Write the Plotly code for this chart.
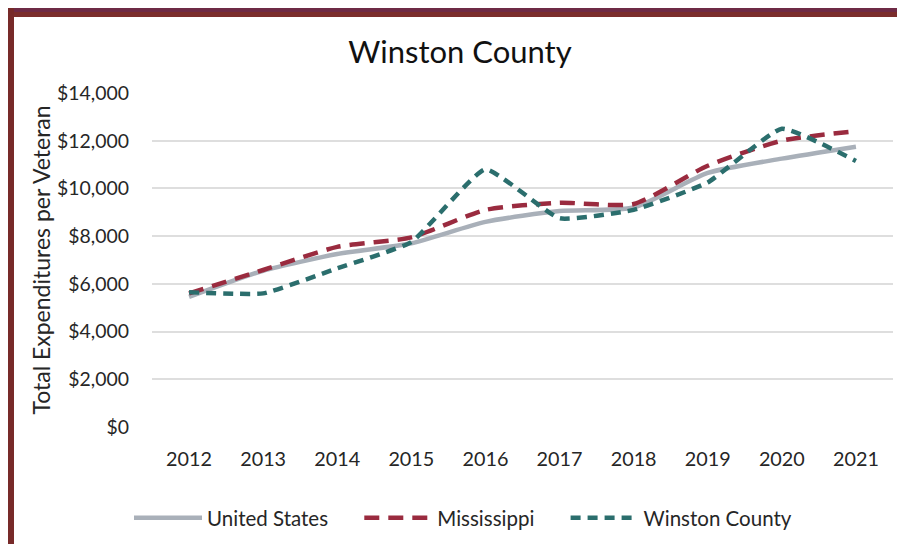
import plotly.graph_objects as go

years = ["2012", "2013", "2014", "2015", "2016", "2017", "2018", "2019", "2020", "2021"]
us = [5450, 6550, 7250, 7700, 8600, 9050, 9200, 10650, 11250, 11750]
ms = [5600, 6580, 7550, 7950, 9100, 9400, 9350, 10950, 12000, 12400]
winston = [5650, 5600, 6650, 7750, 10800, 8750, 9100, 10250, 12500, 11150]
yticks = [0, 2000, 4000, 6000, 8000, 10000, 12000, 14000]
ytick_text = ["$0", "$2,000", "$4,000", "$6,000", "$8,000", "$10,000", "$12,000", "$14,000"]

# page body has an 8px margin: work in screen coordinates and offset
OFF = 8
W, H = 905 - 2 * OFF, 552 - 2 * OFF
ML, MR, MT, MB = 152 - OFF, 12 - OFF, 93 - OFF, 125 - OFF
PW, PH = W - ML - MR, H - MT - MB

def px(sx):
    return (sx - OFF - ML) / PW

def py(sy):
    return (H - MB - (sy - OFF)) / PH

FONT = "Lato, 'Open Sans', sans-serif"
TXT = "#262626"
PAD = "\u00a0" * 5

fig = go.Figure()
fig.add_trace(go.Scatter(x=years, y=us, name="United States" + PAD, mode="lines",
                         line=dict(color="#a9b0b9", width=4.5, shape="spline", smoothing=0.6)))
fig.add_trace(go.Scatter(x=years, y=ms, name="Mississippi" + PAD, mode="lines",
                         line=dict(color="#9a2b3f", width=4.5, dash="15px,9px", shape="spline", smoothing=0.6)))
fig.add_trace(go.Scatter(x=years, y=winston, name="Winston County", mode="lines",
                         line=dict(color="#2b6e6d", width=4.5, dash="10px,7px", shape="spline", smoothing=0.4)))

shapes = [
    dict(type="rect", xref="paper", yref="paper", x0=px(OFF), x1=px(905), y0=py(OFF + 4), y1=py(OFF),
         fillcolor="#6e2a45", line=dict(width=0), layer="above"),
    dict(type="rect", xref="paper", yref="paper", x0=px(OFF), x1=px(905), y0=py(OFF + 9), y1=py(OFF + 4),
         fillcolor="#7b2d2b", line=dict(width=0), layer="above"),
    dict(type="rect", xref="paper", yref="paper", x0=px(OFF), x1=px(OFF + 6), y0=py(552), y1=py(OFF),
         fillcolor="#772a29", line=dict(width=0), layer="above"),
]

fig.update_layout(
    width=W, height=H,
    margin=dict(l=ML, r=MR, t=MT, b=MB),
    paper_bgcolor="white", plot_bgcolor="white",
    font=dict(family=FONT, size=19, color=TXT),
    title=dict(text="Winston County", x=px(460), xref="paper", xanchor="center",
               y=1 - (52 - OFF) / H, yanchor="middle",
               font=dict(family=FONT, size=31, color="#111111")),
    showlegend=True,
    legend=dict(orientation="h", x=px(463), xanchor="center", y=py(518), yanchor="middle",
                font=dict(family=FONT, size=20.5, color=TXT),
                itemwidth=68, tracegroupgap=0, bgcolor="rgba(0,0,0,0)"),
    xaxis=dict(type="category", range=[-0.5, 9.5], showgrid=False, zeroline=False, showline=False,
               ticks="", ticklabelstandoff=18,
               tickfont=dict(family=FONT, size=19.8, color=TXT)),
    yaxis=dict(range=[0, 14000], tickvals=yticks, ticktext=ytick_text,
               showgrid=True, gridcolor="#dedede", gridwidth=1.5, zeroline=False, showline=False,
               ticks="", ticklabelstandoff=22,
               tickfont=dict(family=FONT, size=19.4, color=TXT),
               title=dict(text="Total Expenditures per Veteran", standoff=0,
                          font=dict(family=FONT, size=23, color=TXT))),
    shapes=shapes,
)

fig.write_html("out.html")
